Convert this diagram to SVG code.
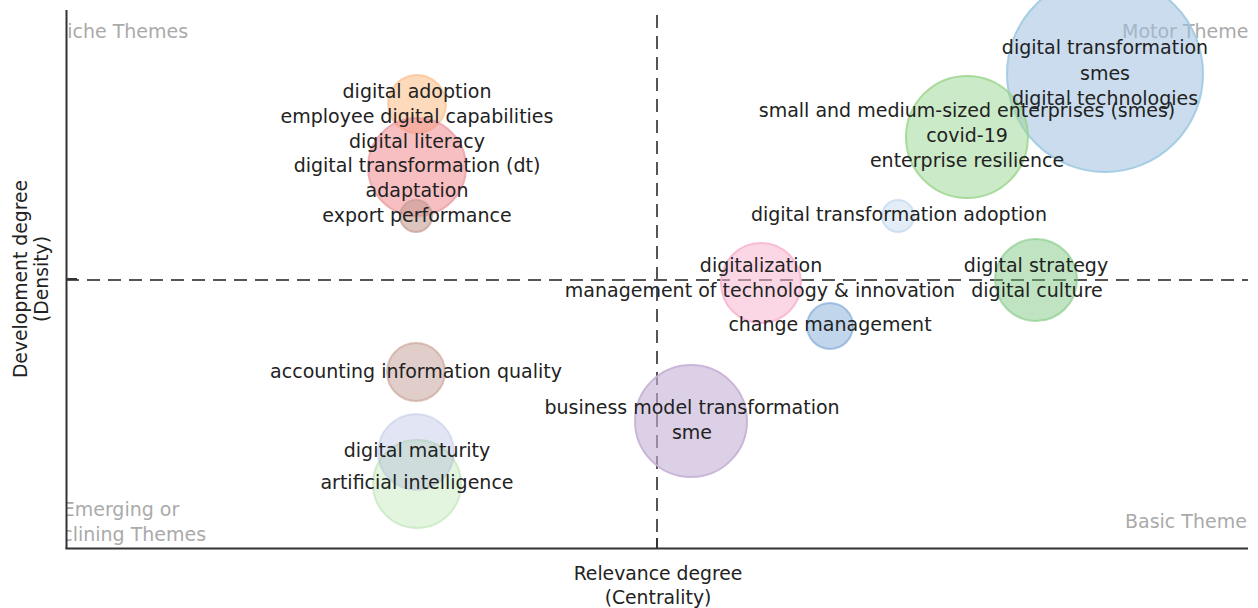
<svg xmlns="http://www.w3.org/2000/svg" width="1258" height="608" viewBox="0 0 1258 608">
<style>
.lbl{font-family:"DejaVu Sans",Verdana,sans-serif;font-size:19px;fill:#222;text-anchor:middle}
.q{font-family:"DejaVu Sans",Verdana,sans-serif;font-size:19px;fill:#aaa}
.ax{font-family:"DejaVu Sans",Verdana,sans-serif;font-size:18.8px;fill:#222;text-anchor:middle}
.b{stroke-width:2}
.dash{stroke:#555;stroke-width:2;stroke-dasharray:13 8;fill:none}
</style>
<defs>
<clipPath id="plot"><rect x="67" y="0" width="1181" height="548"/></clipPath>
</defs>
<rect width="1258" height="608" fill="#fff"/>
<g id="quadrant-labels" clip-path="url(#plot)">
<text class="q" x="53" y="38">Niche Themes</text>
<text class="q" x="1122" y="38">Motor Themes</text>
<text class="q" x="1125" y="528">Basic Themes</text>
<text class="q" x="121" y="516" text-anchor="middle">Emerging or</text>
<text class="q" x="121" y="541" text-anchor="middle">Declining Themes</text>
</g>
<g id="guides">
<line class="dash" x1="657" y1="15" x2="657" y2="548"/>
<line class="dash" x1="66" y1="280" x2="1248" y2="280"/>
</g>
<g id="bubbles">
<g id="n-digital-adoption"><circle class="b" cx="417" cy="104" r="29" fill="#fdae6b" fill-opacity="0.45" stroke="#fdae6b" stroke-opacity="0.5"/></g>
<g id="n-digital-literacy"><circle class="b" cx="417" cy="167" r="49" fill="#f08a8e" fill-opacity="0.55" stroke="#e7969c" stroke-opacity="0.7"/></g>
<g id="n-export-performance"><circle class="b" cx="416" cy="216" r="16" fill="#c49c94" fill-opacity="0.6" stroke="#c49c94" stroke-opacity="0.7"/></g>
<g id="n-digital-transformation"><circle class="b" cx="1105" cy="74" r="98" fill="#9ebfde" fill-opacity="0.55" stroke="#9ecae1" stroke-opacity="0.9"/></g>
<g id="n-smes"><circle class="b" cx="967" cy="137" r="61" fill="#a1d99b" fill-opacity="0.55" stroke="#98d38a" stroke-opacity="0.8"/></g>
<g id="n-dt-adoption"><circle class="b" cx="898" cy="216" r="16" fill="#c6dbef" fill-opacity="0.5" stroke="#c6dbef" stroke-opacity="0.8"/></g>
<g id="n-digitalization"><circle class="b" cx="761" cy="283" r="40" fill="#f7b6d2" fill-opacity="0.55" stroke="#f7b6d2" stroke-opacity="0.9"/></g>
<g id="n-change-management"><circle class="b" cx="830" cy="326" r="23" fill="#6b9bd0" fill-opacity="0.42" stroke="#6b9bd0" stroke-opacity="0.55"/></g>
<g id="n-digital-strategy"><circle class="b" cx="1036" cy="280" r="41" fill="#74c476" fill-opacity="0.45" stroke="#74c476" stroke-opacity="0.55"/></g>
<g id="n-accounting"><circle class="b" cx="416" cy="372" r="29" fill="#c49c94" fill-opacity="0.5" stroke="#c49c94" stroke-opacity="0.6"/></g>
<g id="n-business-model"><circle class="b" cx="691" cy="421" r="56" fill="#c5b0d5" fill-opacity="0.6" stroke="#c5b0d5" stroke-opacity="0.9"/></g>
<g id="n-artificial-intelligence"><circle class="b" cx="417" cy="484" r="44" fill="#c7e9c0" fill-opacity="0.5" stroke="#c7e9c0" stroke-opacity="0.8"/></g>
<g id="n-digital-maturity"><circle class="b" cx="416" cy="452" r="38" fill="#9ea9d8" fill-opacity="0.3" stroke="#9ea9d8" stroke-opacity="0.3"/></g>
</g>
<g id="labels">
<text class="lbl" x="417" y="98">digital adoption</text>
<text class="lbl" x="417" y="123">employee digital capabilities</text>
<text class="lbl" x="417" y="148">digital literacy</text>
<text class="lbl" x="417" y="172">digital transformation (dt)</text>
<text class="lbl" x="417" y="197">adaptation</text>
<text class="lbl" x="417" y="222">export performance</text>
<text class="lbl" x="1105" y="54">digital transformation</text>
<text class="lbl" x="1105" y="80">smes</text>
<text class="lbl" x="1105" y="105">digital technologies</text>
<text class="lbl" x="967" y="117">small and medium-sized enterprises (smes)</text>
<text class="lbl" x="967" y="142">covid-19</text>
<text class="lbl" x="967" y="167">enterprise resilience</text>
<text class="lbl" x="899" y="221">digital transformation adoption</text>
<text class="lbl" x="761" y="272">digitalization</text>
<text class="lbl" x="760" y="297">management of technology &amp; innovation</text>
<text class="lbl" x="830" y="331">change management</text>
<text class="lbl" x="1036" y="272">digital strategy</text>
<text class="lbl" x="1037" y="297">digital culture</text>
<text class="lbl" x="416" y="378">accounting information quality</text>
<text class="lbl" x="692" y="414">business model transformation</text>
<text class="lbl" x="692" y="439">sme</text>
<text class="lbl" x="417" y="457">digital maturity</text>
<text class="lbl" x="417" y="489">artificial intelligence</text>
</g>
<g id="axes" stroke="#333" stroke-width="2" fill="none">
<line x1="66.5" y1="10" x2="66.5" y2="549"/>
<line x1="65.5" y1="548.5" x2="1248" y2="548.5"/>
<line x1="657" y1="538" x2="657" y2="548"/>
<line x1="66" y1="279" x2="77" y2="279"/>
</g>
<g id="axis-titles">
<text class="ax" x="658" y="580">Relevance degree</text>
<text class="ax" x="658" y="604">(Centrality)</text>
<text class="ax" transform="translate(27 279) rotate(-90)">Development degree</text>
<text class="ax" transform="translate(48 279) rotate(-90)">(Density)</text>
</g>
</svg>
